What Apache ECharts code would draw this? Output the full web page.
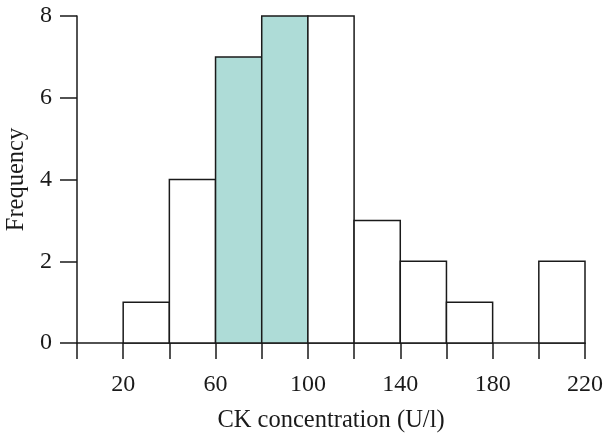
<!DOCTYPE html>
<html>
<head>
<meta charset="utf-8">
<script src="https://cdn.jsdelivr.net/npm/echarts@6/dist/echarts.min.js"></script>
<style>
  html, body { margin: 0; padding: 0; background: #fff; }
  #chart { width: 605px; height: 436px; }
</style>
</head>
<body>
<div id="chart"></div>
<script>
// histogram bins (left edge, width 20)
const binStarts = [20, 40, 60, 80, 100, 120, 140, 160, 180, 200]
const counts = [1, 4, 7, 8, 8, 3, 2, 1, 0, 2]
const highlighted = [false, false, true, true, false, false, false, false, false, false]
const binWidth = 20
const xTickLabels = [20, 60, 100, 140, 180, 220]
const yTickLabels = [0, 2, 4, 6, 8]

const font = '"Liberation Serif", "DejaVu Serif", serif'
const ink = '#1a1a1a'

const chart = echarts.init(document.getElementById('chart'))

chart.setOption({
  animation: false,
  grid: { left: 77, right: 20, top: 16, bottom: 93, outerBoundsMode: 'none', containLabel: false },
  xAxis: {
    type: 'value',
    min: 0,
    max: 220,
    interval: 20,
    name: 'CK concentration (U/l)',
    nameLocation: 'middle',
    nameGap: 65,
    nameTextStyle: { fontFamily: font, fontSize: 24.5, color: ink },
    axisLine: { show: true, lineStyle: { color: ink, width: 1.5 } },
    axisTick: { show: true, length: 16, lineStyle: { color: ink, width: 1.5 } },
    axisLabel: {
      margin: 30,
      fontFamily: font,
      fontSize: 24,
      color: ink,
      formatter: v => (xTickLabels.includes(v) ? String(v) : '')
    },
    splitLine: { show: false }
  },
  yAxis: {
    type: 'value',
    min: 0,
    max: 8,
    interval: 2,
    name: 'Frequency',
    nameLocation: 'middle',
    nameGap: 47,
    nameTextStyle: { fontFamily: font, fontSize: 24.5, color: ink },
    axisLine: { show: true, lineStyle: { color: ink, width: 1.5 } },
    axisTick: { show: true, length: 17, lineStyle: { color: ink, width: 1.5 } },
    axisLabel: {
      margin: 25,
      fontFamily: font,
      fontSize: 24,
      color: ink,
      formatter: v => (yTickLabels.includes(v) ? String(v) : '')
    },
    splitLine: { show: false }
  },
  series: [
    {
      type: 'custom',
      data: binStarts.map((s, i) => [s, counts[i], highlighted[i] ? 1 : 0]),
      renderItem: function (params, api) {
        const x0 = api.value(0)
        const h = api.value(1)
        if (h <= 0) return null
        const p1 = api.coord([x0, h])
        const p2 = api.coord([x0 + binWidth, 0])
        return {
          type: 'rect',
          shape: { x: p1[0], y: p1[1], width: p2[0] - p1[0], height: p2[1] - p1[1] },
          style: {
            fill: api.value(2) ? '#aedcd7' : '#ffffff',
            stroke: ink,
            lineWidth: 1.5
          }
        }
      }
    }
  ]
})
</script>
</body>
</html>
